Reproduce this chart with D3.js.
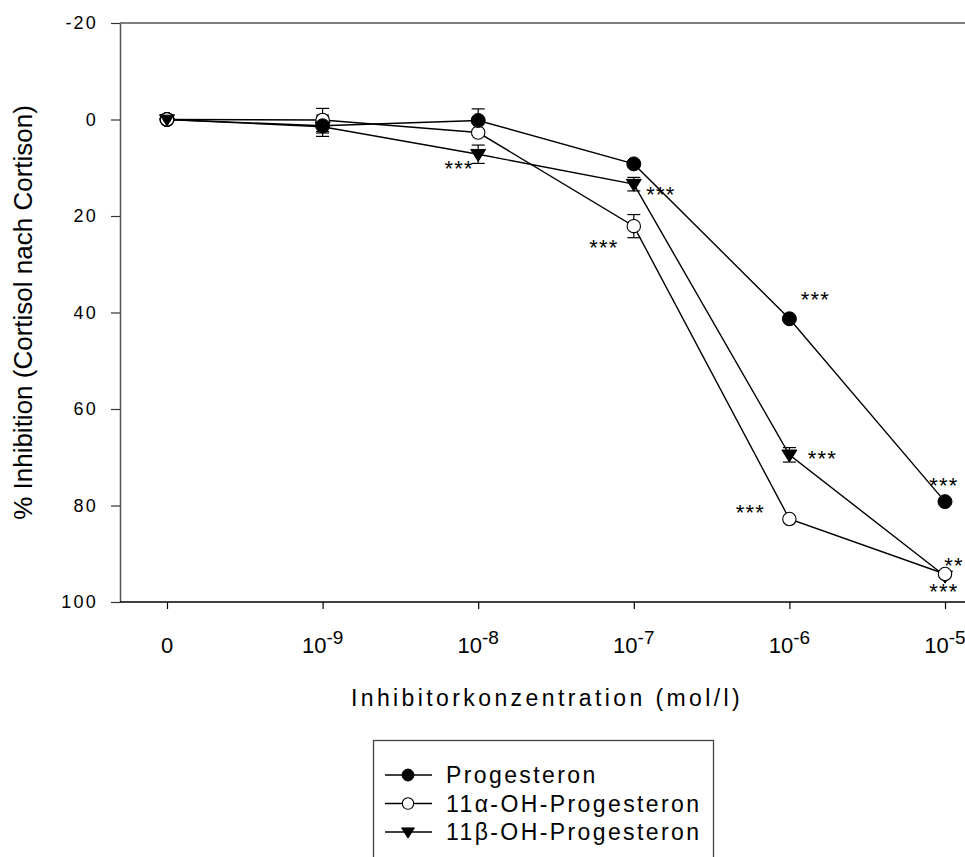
<!DOCTYPE html>
<html>
<head>
<meta charset="utf-8">
<script src="https://cdn.jsdelivr.net/npm/d3@7"></script>
<style>
  html, body { margin: 0; padding: 0; background: #fff; }
  svg { display: block; font-family: "Liberation Sans", Arial, sans-serif; }
</style>
</head>
<body>
<svg id="chart" width="965" height="857"></svg>
<script>
// Concentration steps (mol/l); exponent null means the zero control
const categories = ["0", "1e-9", "1e-8", "1e-7", "1e-6", "1e-5"];
const exponents = [null, -9, -8, -7, -6, -5];
const yTicks = [-20, 0, 20, 40, 60, 80, 100];

const seriesNames = ["Progesteron", "11α-OH-Progesteron", "11β-OH-Progesteron"];
// % inhibition of cortisol -> cortisone conversion
const progesteron = [0, 1.3, 0.2, 9.2, 41.3, 79.2];
const alphaOH = [0, 0.1, 2.7, 22.1, 82.8, 94.2];
const betaOH = [0, 1.5, 7.2, 13.4, 69.5, 94.6];
// standard errors
const progesteronErr = [0, 2.2, 2.4, 0.4, 0, 0];
const alphaOHErr = [0, 2.4, 0.5, 2.4, 0, 0];
const betaOHErr = [0, 1.3, 1.9, 1.4, 1.5, 0];

// significance marks: series index, concentration index, label
const significance = [
  { s: 2, c: 2, label: "***" },
  { s: 1, c: 3, label: "***" },
  { s: 2, c: 3, label: "***" },
  { s: 0, c: 4, label: "***" },
  { s: 2, c: 4, label: "***" },
  { s: 1, c: 4, label: "***" },
  { s: 0, c: 5, label: "***" },
  { s: 1, c: 5, label: "**" },
  { s: 2, c: 5, label: "***" }
];

const series = [
  { name: seriesNames[0], values: progesteron, err: progesteronErr, marker: "filled" },
  { name: seriesNames[1], values: alphaOH, err: alphaOHErr, marker: "open" },
  { name: seriesNames[2], values: betaOH, err: betaOHErr, marker: "triangle" }
];

const svg = d3.select("#chart");
const W = 965;
const plotLeft = 120, plotTop = 23, plotBottom = 602;

const x = d3.scalePoint().domain(categories).range([167, 945]);
const y = d3.scaleLinear().domain([-20, 100]).range([plotTop, plotBottom]);

// frame lines: top and axes
svg.append("line")
  .attr("x1", plotLeft).attr("x2", W).attr("y1", plotTop).attr("y2", plotTop)
  .attr("stroke", "#000").attr("stroke-width", 1.2);

const yAxis = svg.append("g")
  .attr("transform", `translate(${plotLeft},0)`)
  .call(d3.axisLeft(y).tickValues(yTicks).tickSize(9).tickSizeOuter(0).tickPadding(13)
    .tickFormat(d => String(d)));
yAxis.select(".domain").attr("stroke", "#555").attr("stroke-width", 1.5);
yAxis.selectAll(".tick line").attr("stroke", "#333").attr("stroke-width", 1.2);
yAxis.selectAll(".tick text")
  .attr("font-size", 18).attr("letter-spacing", 2.2).attr("fill", "#000");

const xAxis = svg.append("g")
  .attr("transform", `translate(0,${plotBottom})`)
  .call(d3.axisBottom(x).tickSize(7).tickSizeOuter(0).tickFormat(() => ""));
xAxis.select(".domain").attr("d", `M${plotLeft},0H${W}`).attr("stroke", "#000").attr("stroke-width", 1.5);
xAxis.selectAll(".tick line").attr("stroke", "#000").attr("stroke-width", 1.2);
xAxis.selectAll(".tick text").remove();

// tick labels with powers of ten
const xLab = svg.append("g");
categories.forEach((c, i) => {
  const t = xLab.append("text")
    .attr("x", x(c)).attr("y", plotBottom + 51)
    .attr("text-anchor", "middle").attr("font-size", 22).attr("fill", "#000");
  if (exponents[i] === null) {
    t.text("0");
  } else {
    t.append("tspan").text("10");
    t.append("tspan").attr("dy", -9).attr("font-size", 19).text("-" + Math.abs(exponents[i]));
  }
});

// axis titles
svg.append("text")
  .attr("transform", `translate(32,${(plotTop + plotBottom) / 2}) rotate(-90)`)
  .attr("text-anchor", "middle").attr("font-size", 26).attr("fill", "#000")
  .text("% Inhibition (Cortisol nach Cortison)");

svg.append("text")
  .attr("x", 547).attr("y", 706)
  .attr("text-anchor", "middle").attr("font-size", 23).attr("letter-spacing", 3.4).attr("fill", "#000")
  .text("Inhibitorkonzentration (mol/l)");

// connecting lines
const line = d3.line().x((d, i) => x(categories[i])).y(d => y(d));
const plot = svg.append("g");
series.forEach(s => {
  plot.append("path").datum(s.values)
    .attr("d", line).attr("fill", "none").attr("stroke", "#000").attr("stroke-width", 1.4);
});

// error bars
series.forEach(s => {
  s.values.forEach((v, i) => {
    const e = s.err[i];
    if (!e) return;
    const cx = x(categories[i]);
    const g = plot.append("g").attr("stroke", "#000").attr("stroke-width", 1.2);
    g.append("line").attr("x1", cx).attr("x2", cx).attr("y1", y(v - e)).attr("y2", y(v + e));
    [v - e, v + e].forEach(b => g.append("line")
      .attr("x1", cx - 6.5).attr("x2", cx + 6.5).attr("y1", y(b)).attr("y2", y(b)));
  });
});

// markers
function drawMarker(g, type, cx, cy, scale = 1) {
  if (type === "filled") {
    g.append("circle").attr("cx", cx).attr("cy", cy).attr("r", 7 * scale)
      .attr("fill", "#000").attr("stroke", "#000").attr("stroke-width", 1);
  } else if (type === "open") {
    g.append("circle").attr("cx", cx).attr("cy", cy).attr("r", 6.7 * scale)
      .attr("fill", "#fff").attr("stroke", "#000").attr("stroke-width", 1.1);
  } else {
    const w = 7.5 * scale, h = 12 * scale;
    g.append("path")
      .attr("d", `M${cx - w},${cy - h * 0.4}L${cx + w},${cy - h * 0.4}L${cx},${cy + h * 0.6}Z`)
      .attr("fill", "#000").attr("stroke", "#000").attr("stroke-width", 1);
  }
}
[2, 1, 0].forEach(si => {
  const s = series[si];
  s.values.forEach((v, i) => drawMarker(plot, s.marker, x(categories[i]), y(v)));
});
// the zero control shows all three markers stacked
drawMarker(plot, "filled", x(categories[0]), y(0));
drawMarker(plot, "open", x(categories[0]), y(0));
drawMarker(plot, "triangle", x(categories[0]), y(0), 0.9);

// significance labels placed beside their points (offsets are to the label centre)
const sigOffset = {
  "2-2": [-19, 9], "1-3": [-30, 16], "2-3": [27, 5], "0-4": [26, -24],
  "2-4": [33, -1], "1-4": [-39, -12], "0-5": [-1, -21], "1-5": [9, -14], "2-5": [-1, 11]
};
const starSize = 22;
significance.forEach(d => {
  const s = series[d.s];
  const off = sigOffset[d.s + "-" + d.c];
  svg.append("text")
    .attr("x", x(categories[d.c]) + off[0])
    .attr("y", y(s.values[d.c]) + off[1] + starSize * 0.57)
    .attr("text-anchor", "middle").attr("font-size", starSize).attr("letter-spacing", 1.2)
    .attr("fill", "#000").text(d.label);
});

// legend
const legend = svg.append("g");
legend.append("rect")
  .attr("x", 373.5).attr("y", 740.5).attr("width", 340).attr("height", 140)
  .attr("fill", "none").attr("stroke", "#444").attr("stroke-width", 1.3);
series.forEach((s, i) => {
  const ly = 775 + i * 28.5;
  legend.append("line").attr("x1", 385).attr("x2", 432).attr("y1", ly).attr("y2", ly)
    .attr("stroke", "#000").attr("stroke-width", 1.4);
  drawMarker(legend, s.marker, 408, ly, 0.85);
  legend.append("text").attr("x", 446).attr("y", ly + 8)
    .attr("font-size", 23).attr("letter-spacing", 2.4).attr("fill", "#000").text(s.name);
});
</script>
</body>
</html>
